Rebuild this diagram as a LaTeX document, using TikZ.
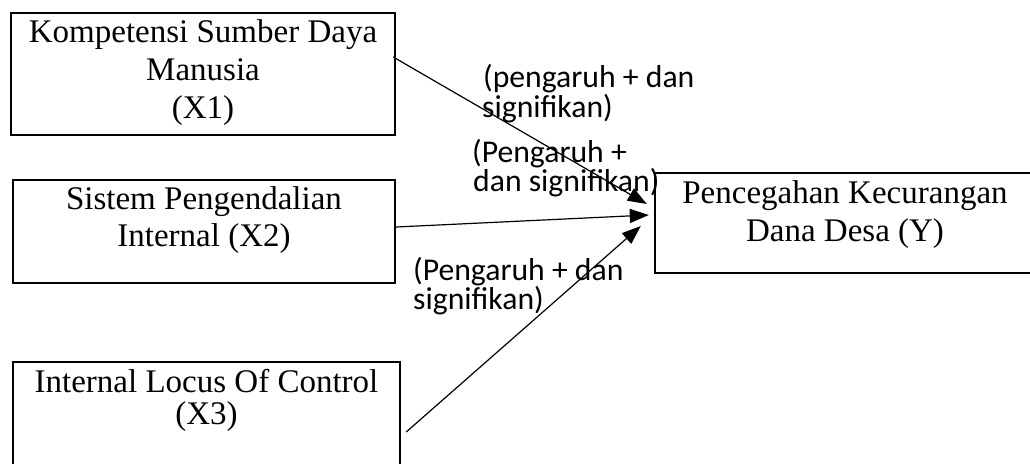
\documentclass[tikz,border=0pt]{standalone}
\usepackage{fontspec}
\setmainfont{Liberation Serif}
\newfontfamily\calibri{Carlito}
\usetikzlibrary{arrows.meta,calc}
\begin{document}
\begin{tikzpicture}[x=1pt,y=-1pt,
  box/.style={draw,line width=2.4pt,rectangle,inner sep=0pt},
  boxtxt/.style={anchor=base,inner sep=0pt,font=\fontsize{33}{40}\selectfont},
  lbl/.style={anchor=base west,inner sep=0pt,font=\calibri\fontsize{31.7}{33}\selectfont},
  conn/.style={line width=1.2pt,-{Triangle[length=19pt,width=14pt]}}]
\useasboundingbox (0,0) rectangle (1030,463);
\begin{scope}
\clip (0,0) rectangle (1030,463);
% boxes
\node[box,minimum width=384pt,minimum height=122pt] (x1) at (203,74) {};
\node[box,minimum width=382pt,minimum height=103pt] (x2) at (204,231.5) {};
\node[box,minimum width=387pt,minimum height=118pt] (x3) at (206.5,421) {};
\node[box,minimum width=385pt,minimum height=100pt] (y) at (847.5,223) {};
\end{scope}
% box texts
\node[boxtxt] (t1a) at (203,42) {Kompetensi Sumber Daya};
\node[boxtxt] (t1b) at (203,80) {Manusia};
\node[boxtxt] (t1c) at (203,118) {(X1)};
\node[boxtxt] (t2a) at (204,209) {Sistem Pengendalian};
\node[boxtxt] (t2b) at (204,246) {Internal (X2)};
\node[boxtxt] (t3a) at (206.5,392) {Internal Locus Of Control};
\node[boxtxt] (t3b) at (206.5,424) {(X3)};
\node[boxtxt] (tya) at (845,203) {Pencegahan Kecurangan};
\node[boxtxt] (tyb) at (845,241) {Dana Desa (Y)};
% labels
\node[lbl] (l1a) at (483,87) {(pengaruh + dan};
\node[lbl] (l1b) at (482,117) {signifikan)};
\node[lbl] (l2a) at (472,162) {(Pengaruh +};
\node[lbl] (l2b) at (473,191) {dan signifikan)};
\node[lbl] (l3a) at (413,280) {(Pengaruh + dan};
\node[lbl] (l3b) at (413,309) {signifikan)};
% connectors
\draw[conn] ($(x1.east)+(-3,-17)$) -- ($(y.west)+(-7,-19)$);
\draw[conn] ($(x2.east)+(0,-4.5)$) -- ($(y.west)+(-5,-8)$);
\draw[conn] ($(x3.east)+(5,11)$) -- ($(y.west)+(-13,3)$);
\end{tikzpicture}
\end{document}
